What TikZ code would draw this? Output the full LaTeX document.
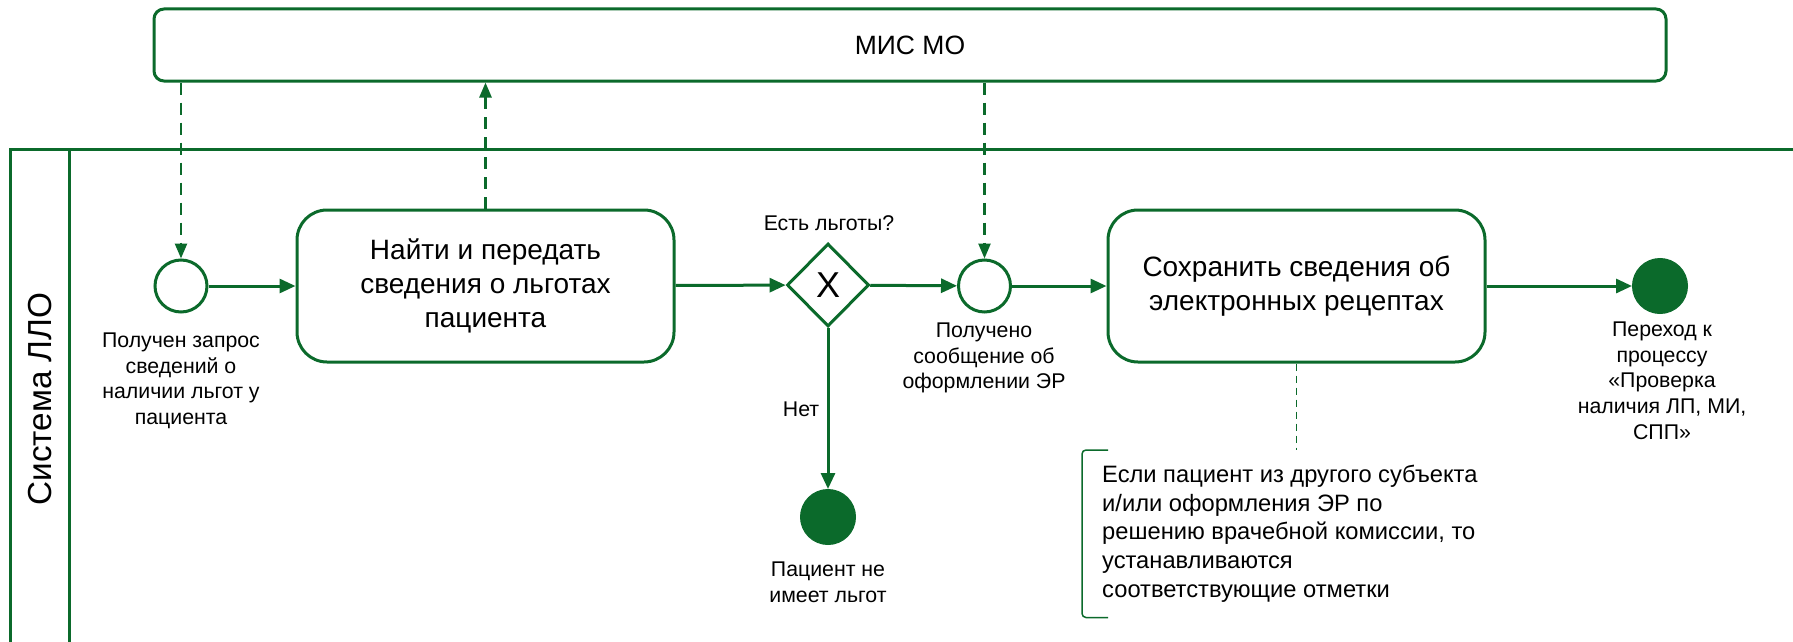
\documentclass[tikz,border=0pt]{standalone}
\usepackage{fontspec}
\setmainfont{Liberation Sans}
\usetikzlibrary{arrows.meta,shapes.geometric,calc}
\definecolor{bpgreen}{HTML}{0B6A2B}
\tikzset{
  flow/.style={draw=bpgreen,line width=3pt,-{Triangle[length=16pt,width=14pt]}},
  msg/.style={draw=bpgreen,line width=2.5pt,dash pattern=on 12pt off 8pt,-{Triangle[length=15pt,width=12pt]}},
  assoc/.style={draw=bpgreen,line width=1.3pt,dash pattern=on 7pt off 5pt},
  pool/.style={draw=bpgreen,line width=3pt},
  taskbox/.style={draw=bpgreen,line width=3pt,rounded corners=30pt,minimum width=377pt,minimum height=152pt,align=center,font=\fontsize{28}{33.7}\selectfont,inner sep=0pt},
  startev/.style={circle,draw=bpgreen,line width=3pt,minimum size=52pt,inner sep=0pt,fill=white},
  endev/.style={circle,fill=bpgreen,draw=bpgreen,line width=1pt,minimum size=55pt,inner sep=0pt},
  gwbox/.style={diamond,draw=bpgreen,line width=3pt,minimum width=82pt,minimum height=83pt,inner sep=0pt,font=\fontsize{36}{40}\selectfont,fill=white},
  lbl/.style={align=center,inner sep=0pt,anchor=north,font=\fontsize{21.3}{25.7}\selectfont},
  lblone/.style={inner sep=0pt,anchor=base,font=\fontsize{21.3}{25.7}\selectfont},
}
\begin{document}
\begin{tikzpicture}[x=1pt,y=-1pt]
\useasboundingbox (0,0) rectangle (1793,642);
% pool
\coordinate (pl) at (10,642);
\coordinate (ptl) at (10,149);
\coordinate (ptr) at (1793,149);
\coordinate (lt) at (69,149);
\coordinate (lb) at (69,642);
\draw[pool] (pl) -- (ptl) -- (ptr);
\draw[pool] (lt) -- (lb);
\node[rotate=90,font=\fontsize{33.3}{36}\selectfont,inner sep=0pt] (lane) at (40,399) {Система ЛЛО};
% MIS MO
\node[draw=bpgreen,line width=3pt,rounded corners=10pt,minimum width=1512pt,minimum height=72pt,inner sep=0pt,font=\fontsize{26.5}{30}\selectfont] (mis) at (910,45) {МИС МО};
% nodes
\node[startev] (s1) at (181,286) {};
\node[taskbox] (t1) at (485.5,286) {Найти и передать\\сведения о льготах\\пациента};
\node[gwbox] (g) at (828,285) {X};
\node[startev] (s2) at (984.5,286) {};
\node[taskbox] (t2) at (1296.5,286) {Сохранить сведения об\\электронных рецептах};
\node[endev] (e1) at (1660,286) {};
\node[endev] (e2) at (828,517) {};
% labels
\node[lbl] (l1) at (181,332.7) {Получен запрос\\сведений о\\наличии льгот у\\пациента};
\node[lblone] (lq) at (829,230) {Есть льготы?};
\node[lbl] (l2) at (984,322.7) {Получено\\сообщение об\\оформлении ЭР};
\node[lbl] (l3) at (1662,321.7) {Переход к\\процессу\\«Проверка\\наличия ЛП, МИ,\\СПП»};
\node[lbl] (l4) at (828,561.7) {Пациент не\\имеет льгот};
\node[lblone] (ln) at (801,416) {Нет};
% annotation
\node[anchor=north west,align=left,inner xsep=20pt,inner ysep=15pt,font=\fontsize{23.7}{28.7}\selectfont] (ann) at (1082,450) {Если пациент из другого субъекта\\и/или оформления ЭР по\\решению врачебной комиссии, то\\устанавливаются\\соответствующие отметки};
\draw[draw=bpgreen,line width=1.5pt] ([xshift=26pt]ann.north west) -- ([xshift=4pt]ann.north west) to[out=180,in=90] ([yshift=-4pt]ann.north west) -- ([yshift=4pt]ann.south west) to[out=-90,in=180] ([xshift=4pt]ann.south west) -- ([xshift=26pt]ann.south west);
% flows
\draw[flow] (s1) -- (t1);
\draw[flow] (t1) -- (g);
\draw[flow] (g) -- (s2);
\draw[flow] (s2) -- (t2);
\draw[flow] (t2) -- (e1);
\draw[flow] (g) -- (e2);
% message flows
\draw[msg] (s1 |- mis.south) -- (s1.north);
\draw[msg] (t1.north) -- (t1.north |- mis.south);
\draw[msg] (s2 |- mis.south) -- (s2.north);
% association
\draw[assoc] (t2.south) -- (t2.south |- ann.north);
\end{tikzpicture}
\end{document}
